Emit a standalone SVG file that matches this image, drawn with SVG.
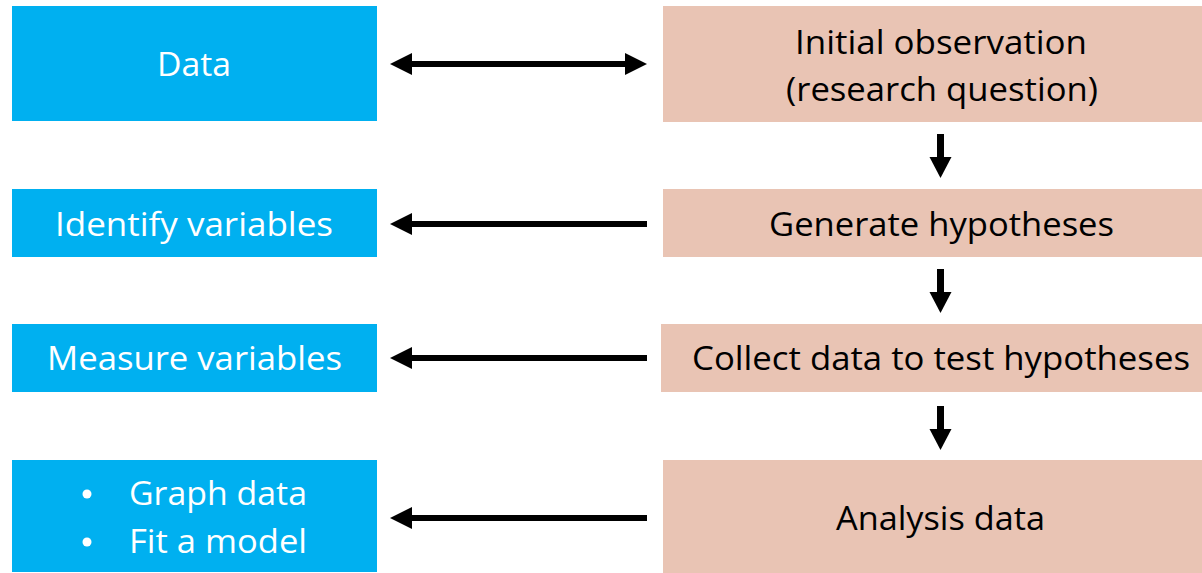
<svg xmlns="http://www.w3.org/2000/svg" width="1202" height="573" viewBox="0 0 1202 573">
  <style>
    .blue { fill: #00B0F0; }
    .peach { fill: #E9C4B4; }
    .lbl { font-family: "Open Sans", "Liberation Sans", sans-serif; font-size: 33px; }
    .w { fill: #FFFFFF; }
    .k { fill: #000000; }
    .shaft { stroke: #000000; stroke-width: 6; fill: none; }
    .head { fill: #000000; }
  </style>

  <!-- left column: data side -->
  <g id="data">
    <rect class="blue" x="12" y="6" width="365" height="115"/>
    <text class="lbl w" x="194" y="76" text-anchor="middle" textLength="74" lengthAdjust="spacingAndGlyphs">Data</text>
  </g>
  <g id="identify-variables">
    <rect class="blue" x="12" y="189" width="365" height="68"/>
    <text class="lbl w" x="194" y="236" text-anchor="middle" textLength="278" lengthAdjust="spacingAndGlyphs">Identify variables</text>
  </g>
  <g id="measure-variables">
    <rect class="blue" x="12" y="324" width="365" height="68"/>
    <text class="lbl w" x="194.5" y="370" text-anchor="middle" textLength="295" lengthAdjust="spacingAndGlyphs">Measure variables</text>
  </g>
  <g id="graph-fit">
    <rect class="blue" x="12" y="460" width="365" height="112"/>
    <circle class="w" cx="87" cy="494" r="4.5"/>
    <circle class="w" cx="87" cy="542" r="4.5"/>
    <text class="lbl w" x="129" y="505" textLength="178" lengthAdjust="spacingAndGlyphs">Graph data</text>
    <text class="lbl w" x="129" y="553" textLength="178" lengthAdjust="spacingAndGlyphs">Fit a model</text>
  </g>

  <!-- right column: research process -->
  <g id="initial-observation">
    <rect class="peach" x="663" y="6" width="539" height="116"/>
    <text class="lbl k" x="941" y="54" text-anchor="middle" textLength="292" lengthAdjust="spacingAndGlyphs">Initial observation</text>
    <text class="lbl k" x="942" y="101" text-anchor="middle" textLength="312" lengthAdjust="spacingAndGlyphs">(research question)</text>
  </g>
  <g id="generate-hypotheses">
    <rect class="peach" x="663" y="189" width="539" height="68"/>
    <text class="lbl k" x="941.5" y="236" text-anchor="middle" textLength="345" lengthAdjust="spacingAndGlyphs">Generate hypotheses</text>
  </g>
  <g id="collect-data">
    <rect class="peach" x="661" y="324" width="541" height="68"/>
    <text class="lbl k" x="941" y="370" text-anchor="middle" textLength="498" lengthAdjust="spacingAndGlyphs">Collect data to test hypotheses</text>
  </g>
  <g id="analysis-data">
    <rect class="peach" x="663" y="460" width="539" height="113"/>
    <text class="lbl k" x="940.5" y="530" text-anchor="middle" textLength="209" lengthAdjust="spacingAndGlyphs">Analysis data</text>
  </g>

  <!-- connectors -->
  <g id="connectors">
    <!-- two-way link between data and the question -->
    <line class="shaft" x1="410" y1="64" x2="627" y2="64"/>
    <polygon class="head" points="390,64 412,53 412,75"/>
    <polygon class="head" points="647,64 625,53 625,75"/>

    <!-- leftward links -->
    <line class="shaft" x1="410" y1="224" x2="647" y2="224"/>
    <polygon class="head" points="390,224 412,213 412,235"/>
    <line class="shaft" x1="410" y1="358" x2="647" y2="358"/>
    <polygon class="head" points="390,358 412,347 412,369"/>
    <line class="shaft" x1="410" y1="518" x2="647" y2="518"/>
    <polygon class="head" points="390,518 412,507 412,529"/>

    <!-- downward steps -->
    <line class="shaft" x1="940.5" y1="134" x2="940.5" y2="159" style="stroke-width:7"/>
    <polygon class="head" points="929.5,157 951.5,157 940.5,178"/>
    <line class="shaft" x1="940.5" y1="269" x2="940.5" y2="294" style="stroke-width:7"/>
    <polygon class="head" points="929.5,292 951.5,292 940.5,313"/>
    <line class="shaft" x1="940.5" y1="406" x2="940.5" y2="431" style="stroke-width:7"/>
    <polygon class="head" points="929.5,429 951.5,429 940.5,450"/>
  </g>
</svg>
